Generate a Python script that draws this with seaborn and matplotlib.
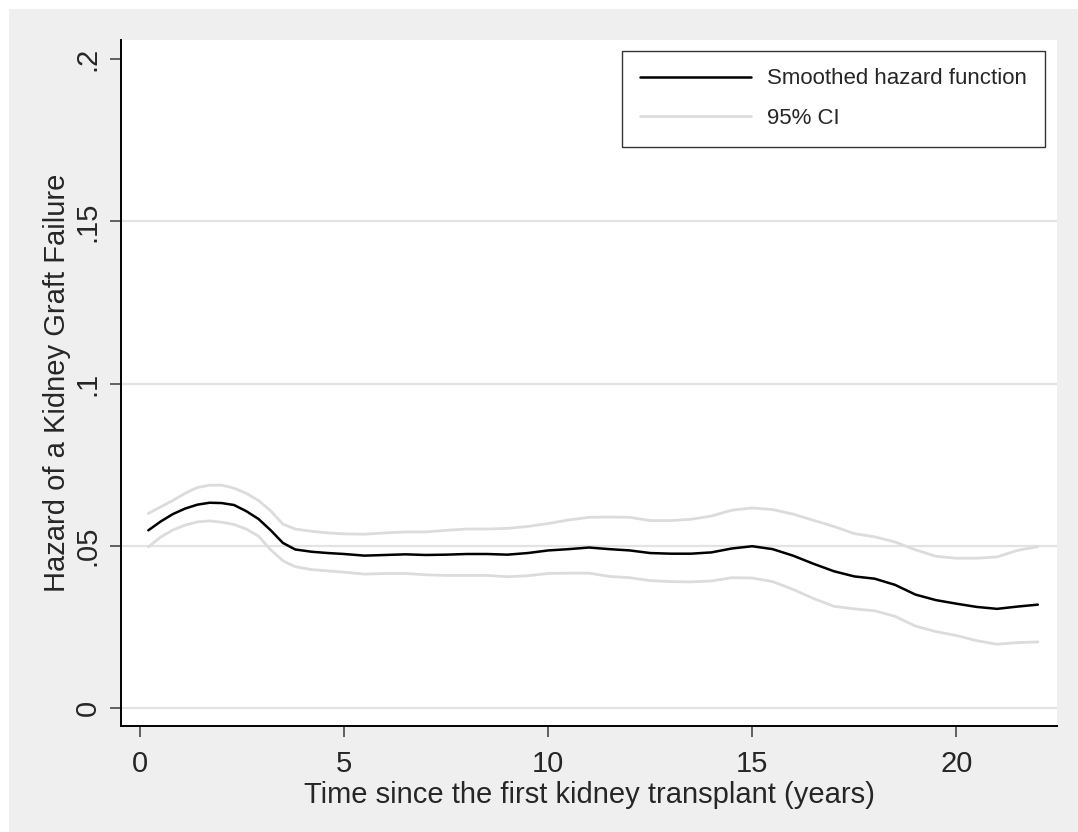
import numpy as np
import pandas as pd
import matplotlib
matplotlib.use("Agg")
import matplotlib.pyplot as plt
from matplotlib.patches import Rectangle
import seaborn as sns

# Time since first kidney transplant (years)
years = [0.2, 0.5, 0.8, 1.1, 1.4, 1.7, 2.0, 2.3, 2.6, 2.9, 3.2, 3.5, 3.8, 4.2, 4.6,
         5.0, 5.5, 6.0, 6.5, 7.0, 7.5, 8.0, 8.5, 9.0, 9.5, 10.0, 10.5, 11.0, 11.5,
         12.0, 12.5, 13.0, 13.5, 14.0, 14.5, 15.0, 15.5, 16.0, 16.5, 17.0, 17.5,
         18.0, 18.5, 19.0, 19.5, 20.0, 20.5, 21.0, 21.5, 22.0]

# Smoothed hazard of graft failure
hazard = [0.0548, 0.0575, 0.0598, 0.0615, 0.0627, 0.0633, 0.0632, 0.0626, 0.0607,
          0.0583, 0.0548, 0.0509, 0.0489, 0.0482, 0.0478, 0.0475, 0.0470, 0.0472,
          0.0474, 0.0472, 0.0473, 0.0475, 0.0475, 0.0473, 0.0478, 0.0486, 0.0490,
          0.0495, 0.0490, 0.0486, 0.0478, 0.0476, 0.0476, 0.0480, 0.0492, 0.0499,
          0.0490, 0.0470, 0.0445, 0.0422, 0.0406, 0.0399, 0.0380, 0.0350, 0.0333,
          0.0322, 0.0312, 0.0306, 0.0313, 0.0319]

# 95% confidence bounds
ci_upper = [0.0600, 0.0620, 0.0640, 0.0662, 0.0680, 0.0687, 0.0687, 0.0678, 0.0662,
            0.0640, 0.0608, 0.0567, 0.0552, 0.0545, 0.0540, 0.0537, 0.0536, 0.0540,
            0.0543, 0.0543, 0.0548, 0.0552, 0.0552, 0.0554, 0.0560, 0.0569, 0.0580,
            0.0588, 0.0589, 0.0588, 0.0578, 0.0578, 0.0582, 0.0592, 0.0610, 0.0617,
            0.0612, 0.0598, 0.0579, 0.0560, 0.0538, 0.0528, 0.0512, 0.0488, 0.0468,
            0.0462, 0.0462, 0.0466, 0.0486, 0.0498]
ci_lower = [0.0497, 0.0527, 0.0549, 0.0564, 0.0574, 0.0577, 0.0573, 0.0566, 0.0552,
            0.0530, 0.0488, 0.0454, 0.0436, 0.0427, 0.0423, 0.0419, 0.0413, 0.0415,
            0.0415, 0.0411, 0.0409, 0.0409, 0.0409, 0.0405, 0.0408, 0.0415, 0.0416,
            0.0416, 0.0406, 0.0402, 0.0393, 0.0390, 0.0389, 0.0392, 0.0402, 0.0401,
            0.0390, 0.0366, 0.0338, 0.0314, 0.0306, 0.0300, 0.0283, 0.0253, 0.0236,
            0.0224, 0.0208, 0.0197, 0.0202, 0.0204]

x_ticks = [0, 5, 10, 15, 20]
y_ticks = [0, 0.05, 0.10, 0.15, 0.20]
y_tick_labels = ["0", ".05", ".1", ".15", ".2"]

df = pd.DataFrame({"years": years, "hazard": hazard,
                   "upper": ci_upper, "lower": ci_lower})

sns.set_style("white")
plt.rcParams["font.family"] = ["Liberation Sans", "DejaVu Sans"]

W, H = 1078, 832
fig = plt.figure(figsize=(W / 100, H / 100), dpi=100)
fig.patch.set_facecolor("white")
# light grey graph region
fig.patches.append(Rectangle((9 / W, 0), 1 - 9 / W, 1 - 9 / H,
                             transform=fig.transFigure, facecolor="#EFEFEF",
                             edgecolor="none", zorder=-10))

ax = fig.add_axes([121 / W, 106 / H, 936 / W, 686 / H])
ax.set_facecolor("white")

ci_color = "#DCDCDC"
sns.lineplot(data=df, x="years", y="upper", ax=ax, color=ci_color, lw=2.0,
             label="95% CI", zorder=2)
sns.lineplot(data=df, x="years", y="lower", ax=ax, color=ci_color, lw=2.0,
             label="_nolegend_", zorder=2)
sns.lineplot(data=df, x="years", y="hazard", ax=ax, color="black", lw=1.8,
             label="Smoothed hazard function", zorder=3)

ax.set_xlim(-0.47, 22.47)
ax.set_ylim(-0.0055, 0.2059)
ax.set_xticks(x_ticks)
ax.set_xticklabels([str(v) for v in x_ticks])
ax.set_yticks(y_ticks)
ax.set_yticklabels(y_tick_labels, rotation=90, va="center")

ax.yaxis.grid(True, color="#E3E3E3", lw=1.6, zorder=0)
ax.xaxis.grid(False)
ax.get_ygridlines()[-1].set_visible(False)
ax.set_axisbelow(True)

for side in ["top", "right"]:
    ax.spines[side].set_visible(False)
for side in ["left", "bottom"]:
    ax.spines[side].set_color("black")
    ax.spines[side].set_linewidth(1.4)

ax.tick_params(axis="both", which="major", direction="out", length=8,
               width=1.3, color="#555555", labelsize=21,
               left=True, bottom=True)
ax.tick_params(axis="x", pad=9)
ax.tick_params(axis="y", pad=6)

ax.set_xlabel("Time since the first kidney transplant (years)", fontsize=21)
ax.set_ylabel("Hazard of a Kidney Graft Failure", fontsize=21)
ax.xaxis.set_label_coords(0.5, -0.080)
ax.yaxis.set_label_coords(-0.053, 0.5)

handles, labels = ax.get_legend_handles_labels()
order = [labels.index("Smoothed hazard function"), labels.index("95% CI")]
leg = ax.legend([handles[i] for i in order], [labels[i] for i in order],
                loc="upper right", bbox_to_anchor=(0.9872, 0.9844),
                borderaxespad=0, fontsize=16, frameon=True, fancybox=False,
                edgecolor="black", handlelength=5.0, handletextpad=0.72,
                labelspacing=0.84, borderpad=0.8)
leg.get_frame().set_linewidth(1.0)
leg.get_frame().set_facecolor("white")

fig.savefig("out.png", dpi=100, facecolor=fig.get_facecolor())
